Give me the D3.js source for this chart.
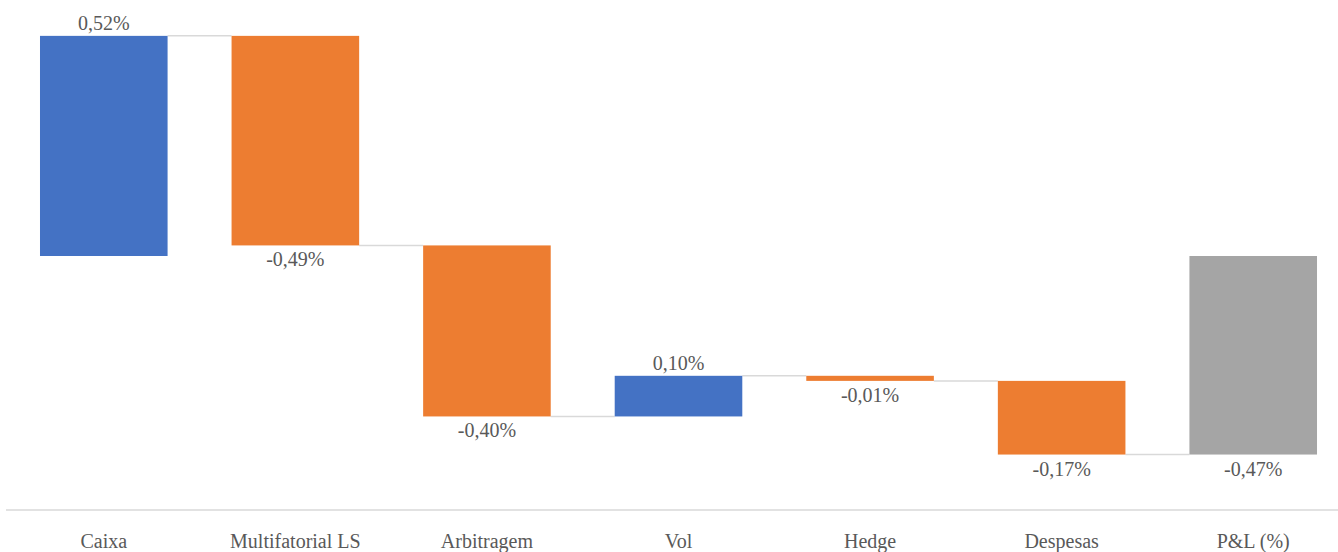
<!DOCTYPE html>
<html>
<head>
<meta charset="utf-8">
<script src="https://cdn.jsdelivr.net/npm/d3@7"></script>
<style>
  body { margin: 0; background: #fff; }
  svg { display: block; font-family: "Liberation Serif", "DejaVu Serif", serif; }
</style>
</head>
<body>
<div id="chart"></div>
<script>
const categories = ["Caixa", "Multifatorial LS", "Arbitragem", "Vol", "Hedge", "Despesas", "P&L (%)"];
const changes = [0.52, -0.495, -0.404, 0.096, -0.012, -0.174];
const kinds = ["up", "down", "down", "up", "down", "down", "total"];
const colours = { up: "#4472C4", down: "#ED7D31", total: "#A5A5A5" };

function drawWaterfall(id) {
  const width = 1338;
  const height = 552;

  // running totals -> start / end per bar, last bar is the total from zero
  let running = 0;
  const bars = changes.map((v, i) => {
    const start = running;
    running += v;
    return { name: categories[i], start: start, end: running, value: v, kind: kinds[i] };
  });
  bars.push({ name: categories[6], start: 0, end: running, value: running, kind: kinds[6] });

  const x = d3.scaleBand()
    .domain(categories)
    .range([8, 1349])
    .paddingInner(0.334)
    .paddingOuter(0.167);

  const y = d3.scaleLinear()
    .domain([-0.6, 0.6])
    .range([510, 2]);

  const fmt = v => v.toFixed(2).replace(".", ",") + "%";

  const svg = d3.select(id)
    .append("svg")
    .attr("width", width)
    .attr("height", height);

  // connectors
  svg.selectAll("line.conn")
    .data(bars.slice(0, -1))
    .enter()
    .append("line")
    .attr("class", "conn")
    .attr("x1", d => x(d.name) + x.bandwidth())
    .attr("x2", (d, i) => x(categories[i + 1]))
    .attr("y1", d => y(d.end))
    .attr("y2", d => y(d.end))
    .attr("stroke", "#D9D9D9")
    .attr("stroke-width", 1.5);

  svg.selectAll("rect")
    .data(bars)
    .enter()
    .append("rect")
    .attr("x", d => x(d.name))
    .attr("width", x.bandwidth())
    .attr("y", d => y(Math.max(d.start, d.end)))
    .attr("height", d => Math.abs(y(d.start) - y(d.end)))
    .style("fill", d => colours[d.kind]);

  svg.selectAll("text.val")
    .data(bars)
    .enter()
    .append("text")
    .attr("class", "val")
    .attr("x", d => x(d.name) + x.bandwidth() / 2)
    .attr("y", d => d.value >= 0 ? y(d.end) - 6 : y(Math.min(d.start, d.end)) + 21)
    .attr("text-anchor", "middle")
    .attr("font-size", 20)
    .attr("fill", "#595959")
    .text(d => fmt(d.value));

  // category axis
  svg.append("line")
    .attr("x1", 6)
    .attr("x2", width)
    .attr("y1", y(-0.6))
    .attr("y2", y(-0.6))
    .attr("stroke", "#D9D9D9")
    .attr("stroke-width", 1.5);

  svg.selectAll("text.cat")
    .data(categories)
    .enter()
    .append("text")
    .attr("class", "cat")
    .attr("x", d => x(d) + x.bandwidth() / 2)
    .attr("y", 548)
    .attr("text-anchor", "middle")
    .attr("font-size", 20)
    .attr("fill", "#595959")
    .text(d => d);
}

drawWaterfall("#chart");
</script>
</body>
</html>
